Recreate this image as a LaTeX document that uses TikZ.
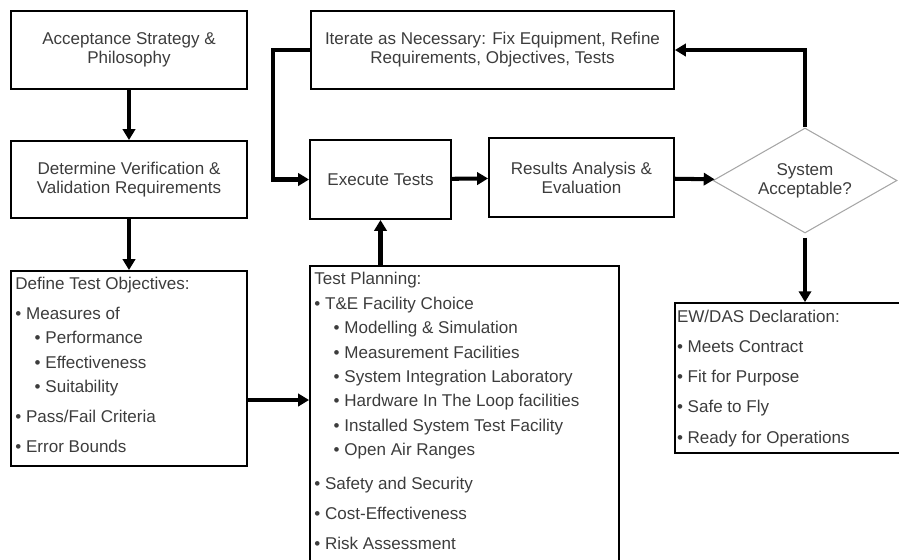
\documentclass[tikz,border=0pt]{standalone}
\usepackage{fontspec}
\setmainfont{Liberation Sans}
\usetikzlibrary{shapes.geometric, arrows.meta, positioning, calc}

\definecolor{txtgray}{RGB}{60,60,60}
\newcommand{\topbul}{\textbullet\ }
\newcommand{\subbul}{\hspace*{11pt}\textbullet\ }

\begin{document}
\begin{tikzpicture}[
    x=0.02cm, y=-0.02cm,
    >=Triangle,
    block/.style={draw, line width=1.1pt, inner sep=0pt, align=center, text=txtgray,
        font=\fontsize{9.7}{10.8}\selectfont},
    frame/.style={draw, line width=1.1pt, inner sep=0pt},
    list/.style={inner sep=0pt, align=left, text=txtgray,
        font=\fontsize{9.7}{13.9}\selectfont},
    decision/.style={diamond, draw=gray!70, line width=0.6pt, inner sep=0pt, aspect=1.75,
        align=center, text=txtgray, font=\fontsize{9.7}{10.8}\selectfont},
    arr/.style={-{Triangle[length=6.2pt,width=7pt]}, line width=2.3pt}
]
\useasboundingbox (0,0) rectangle (899,559);
\clip (0,0) rectangle (899,559);

% left column
\node (accept) at (129,50) [block, minimum width=4.72cm, minimum height=1.56cm] {Acceptance Strategy \&\\Philosophy};
\node (determine) at (129,179.5) [block, minimum width=4.72cm, minimum height=1.54cm] {Determine Verification \&\\Validation Requirements};
\node (objbox) at (129,368.5) [frame, minimum width=4.72cm, minimum height=3.9cm] {};
\node (objtext) [list, below right=0.13cm and 0.1cm of objbox.north west] {Define Test Objectives:\\[3.2pt]
\topbul Measures of\\
\subbul Performance\\
\subbul Effectiveness\\
\subbul Suitability\\[3.2pt]
\topbul Pass/Fail Criteria\\[3.2pt]
\topbul Error Bounds};

% middle column
\node (iter) at (492.5,50) [block, minimum width=7.26cm, minimum height=1.56cm] {Iterate as Necessary: Fix Equipment, Refine\\Requirements, Objectives, Tests};
\node (exec) at (380.5,179.5) [block, minimum width=2.82cm, minimum height=1.58cm] {Execute Tests};
\node (results) at (581.5,177.5) [block, minimum width=3.7cm, minimum height=1.58cm] {Results Analysis \&\\Evaluation};
\node (planbox) at (464.5,420.5) [frame, minimum width=6.18cm, minimum height=6.18cm] {};
\node (plantext) [list, below right=0.14cm and 0.1cm of planbox.north west] {Test Planning:\\
\topbul T\&E Facility Choice\\
\subbul Modelling \& Simulation\\
\subbul Measurement Facilities\\
\subbul System Integration Laboratory\\
\subbul Hardware In The Loop facilities\\
\subbul Installed System Test Facility\\
\subbul Open Air Ranges\\[5.5pt]
\topbul Safety and Security\\[3.2pt]
\topbul Cost-Effectiveness\\[3.2pt]
\topbul Risk Assessment};

% right column
\node (dec) at (805,180.5) [decision, minimum width=3.68cm, minimum height=2.1cm] {System\\Acceptable?};
\node (ewbox) at (792.5,378) [frame, line width=1pt, minimum width=4.7cm, minimum height=3cm] {};
\node (ewtext) [list, below right=0.16cm and 0.05cm of ewbox.north west] {EW/DAS Declaration:\\[3.2pt]
\topbul Meets Contract\\[3.2pt]
\topbul Fit for Purpose\\[3.2pt]
\topbul Safe to Fly\\[3.2pt]
\topbul Ready for Operations};

% connectors
\coordinate (objout) at ([yshift=-0.63cm]objbox.east);
\draw[arr] (accept) -- (determine);
\draw[arr] (determine) -- (objbox);
\draw[arr] (objout) -- (objout -| planbox.west);
\draw[arr] (planbox.north -| exec.south) -- (exec.south);
\draw[arr] (exec) -- (results);
\draw[arr] (results) -- (dec);
\draw[arr] (dec.north) |- (iter.east);
\draw[arr] (iter.west) -- ++(-37,0) |- (exec.west);
\draw[arr] ([yshift=-0.08cm]dec.south) -- (dec.south |- ewbox.north);

\end{tikzpicture}
\end{document}
